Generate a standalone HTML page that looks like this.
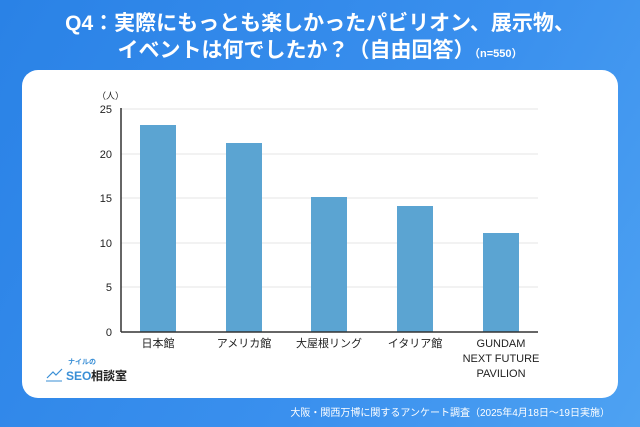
<!DOCTYPE html>
<html><head><meta charset="utf-8"><style>
body{margin:0;width:640px;height:427px;overflow:hidden;background:linear-gradient(120deg,#2a82e6 0%,#3a90ee 60%,#4ea2f2 100%);font-family:"Liberation Sans","Noto Sans CJK JP",sans-serif;position:relative}
.t{position:absolute;left:0;width:640px;text-align:center;color:#fff;font-weight:bold;font-size:21px;line-height:27px}
.card{position:absolute;left:22px;top:70px;width:596px;height:328px;background:#fff;border-radius:16px}
.foot{position:absolute;right:30px;top:404px;color:#fff;font-size:10px}
</style></head><body>
<div class="t" style="top:10px">Q4：実際にもっとも楽しかったパビリオン、展示物、</div>
<div class="t" style="top:37px">イベントは何でしたか？（自由回答）<span style="font-size:11px">（n=550）</span></div>
<div class="card"></div>
<svg width="640" height="427" style="position:absolute;left:0;top:0" font-family="Liberation Sans, Noto Sans CJK JP, sans-serif">
<g stroke="#e6e6e6" stroke-width="1">
<line x1="121" y1="109" x2="538" y2="109"/><line x1="121" y1="154" x2="538" y2="154"/><line x1="121" y1="198" x2="538" y2="198"/><line x1="121" y1="243" x2="538" y2="243"/><line x1="121" y1="287" x2="538" y2="287"/></g>
<g fill="#5ba4d2">
<rect x="140" y="125" width="36" height="207"/>
<rect x="226" y="143" width="36" height="189"/>
<rect x="311" y="197" width="36" height="135"/>
<rect x="397" y="206" width="36" height="126"/>
<rect x="483" y="233" width="36" height="99"/>
</g>
<line x1="121" y1="108" x2="121" y2="332" stroke="#333" stroke-width="1.5"/>
<line x1="121" y1="332" x2="538" y2="332" stroke="#333" stroke-width="1.5"/>
<g font-size="11" fill="#222" text-anchor="end">
<text x="112" y="113">25</text><text x="112" y="158">20</text><text x="112" y="202">15</text><text x="112" y="247">10</text><text x="112" y="291">5</text><text x="112" y="336">0</text></g>
<text x="97" y="99" font-size="9" fill="#222">（人）</text>
<g font-size="11" fill="#222" text-anchor="middle">
<text x="158" y="347">日本館</text><text x="244" y="347">アメリカ館</text><text x="329" y="347">大屋根リング</text><text x="415" y="347">イタリア館</text>
<text x="501" y="347">GUNDAM</text><text x="501" y="362">NEXT FUTURE</text><text x="501" y="377">PAVILION</text></g>
<text x="68" y="364" font-size="7" fill="#3a8fd6" font-weight="bold">ナイルの</text>
<polyline points="47,378 53,372 56,375 62,369" fill="none" stroke="#3a8fd6" stroke-width="1.2"/>
<line x1="46" y1="381" x2="62" y2="381" stroke="#3a8fd6"/>
<text x="66" y="380" font-size="12" fill="#3a8fd6" font-weight="bold">SEO</text>
<text x="91" y="380" font-size="12" fill="#222" font-weight="bold">相談室</text>
</svg>
<div class="foot">大阪・関西万博に関するアンケート調査（2025年4月18日～19日実施）</div>
</body></html>
